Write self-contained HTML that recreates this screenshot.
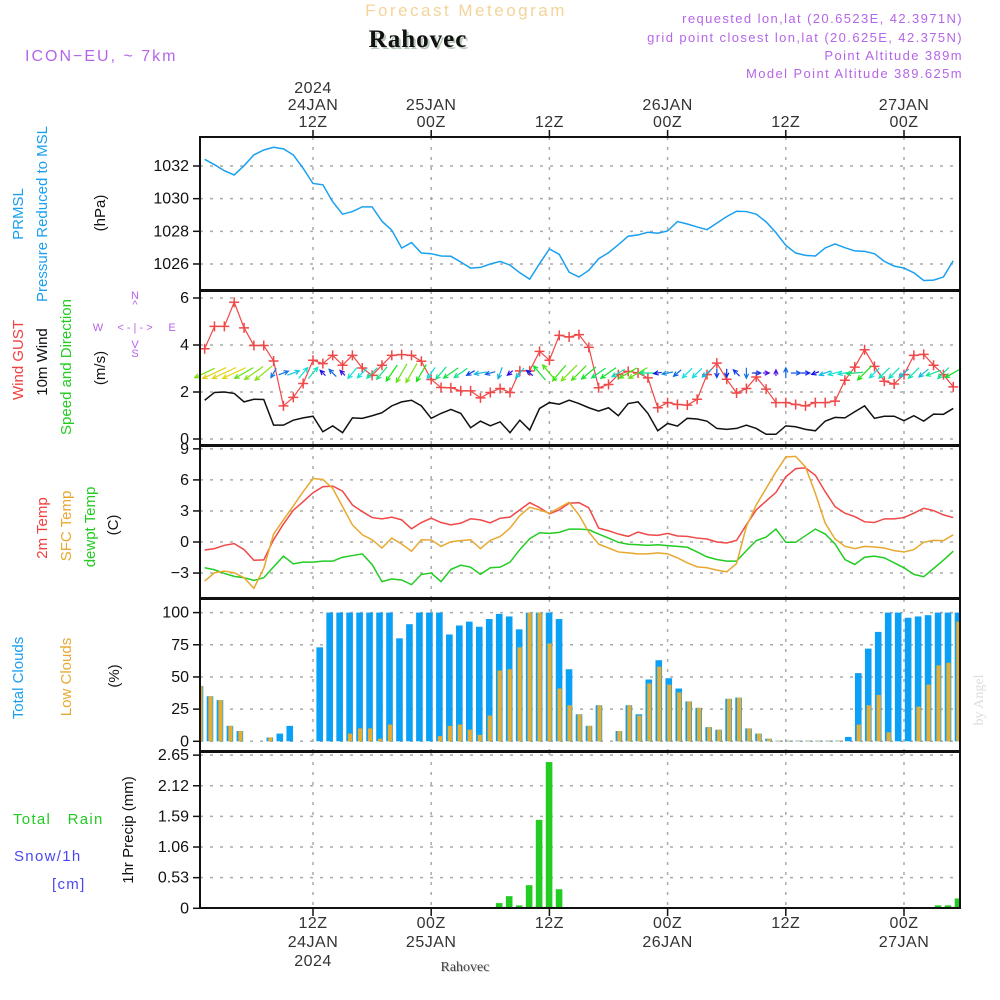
<!DOCTYPE html>
<html><head><meta charset="utf-8"><title>Forecast Meteogram Rahovec</title>
<style>
html,body{margin:0;padding:0;background:#fff;}
svg{display:block;font-family:"Liberation Sans",sans-serif;}
</style></head>
<body>
<svg id="chart" width="1000" height="1000" viewBox="0 0 1000 1000" xmlns="http://www.w3.org/2000/svg">
<rect x="0" y="0" width="1000" height="1000" fill="#fff"/>
<text x="466" y="16" text-anchor="middle" font-size="17" fill="#f3d49a" letter-spacing="2.5">Forecast Meteogram</text>
<text x="420" y="49" text-anchor="middle" font-size="25" font-weight="bold" font-family="Liberation Serif, serif" fill="#b8c8b8" letter-spacing="1">Rahovec</text>
<text x="418" y="47" text-anchor="middle" font-size="25" font-weight="bold" font-family="Liberation Serif, serif" fill="#111" letter-spacing="1">Rahovec</text>
<text x="25" y="61" font-size="16" fill="#b565e8" letter-spacing="2">ICON−EU, ~ 7km</text>
<g font-size="13" fill="#b565e8" text-anchor="end" letter-spacing="1.4">
<text x="963" y="23">requested lon,lat (20.6523E, 42.3971N)</text>
<text x="963" y="42">grid point closest lon,lat (20.625E, 42.375N)</text>
<text x="963" y="60">Point Altitude 389m</text>
<text x="963" y="78">Model Point Altitude 389.625m</text>
</g>
<g font-size="15">
<text transform="translate(23,214) rotate(-90)" text-anchor="middle" fill="#1aa0f0">PRMSL</text>
<text transform="translate(47,214) rotate(-90)" text-anchor="middle" fill="#1aa0f0">Pressure Reduced to MSL</text>
<text transform="translate(105,213) rotate(-90)" text-anchor="middle" fill="#111">(hPa)</text>
</g>
<g font-size="15">
<text transform="translate(23,360) rotate(-90)" text-anchor="middle" fill="#f04040">Wind GUST</text>
<text transform="translate(47,362) rotate(-90)" text-anchor="middle" fill="#111">10m Wind</text>
<text transform="translate(71,367) rotate(-90)" text-anchor="middle" fill="#22cc22">Speed and Direction</text>
<text transform="translate(105,368) rotate(-90)" text-anchor="middle" fill="#111">(m/s)</text>
</g>
<g font-size="11" fill="#b565e8" text-anchor="middle">
<text x="135" y="299">N</text><text x="135" y="308">^</text>
<text x="98" y="331">W</text><text x="135" y="331">&lt; - | - &gt;</text><text x="172" y="331">E</text>
<text x="135" y="348">V</text><text x="135" y="357">S</text>
</g>
<g font-size="15">
<text transform="translate(47,528) rotate(-90)" text-anchor="middle" fill="#f04040">2m Temp</text>
<text transform="translate(71,526) rotate(-90)" text-anchor="middle" fill="#e8a830">SFC Temp</text>
<text transform="translate(95,527) rotate(-90)" text-anchor="middle" fill="#22cc22">dewpt Temp</text>
<text transform="translate(118,525) rotate(-90)" text-anchor="middle" fill="#111">(C)</text>
</g>
<g font-size="15">
<text transform="translate(23,678) rotate(-90)" text-anchor="middle" fill="#1aa0f0">Total Clouds</text>
<text transform="translate(71,677) rotate(-90)" text-anchor="middle" fill="#e8a830">Low Clouds</text>
<text transform="translate(119,676) rotate(-90)" text-anchor="middle" fill="#111">(%)</text>
</g>
<g font-size="15" letter-spacing="1.3">
<text x="13" y="824" fill="#22cc22" xml:space="preserve">Total   Rain</text>
<text x="14" y="861" fill="#4848f0">Snow/1h</text>
<text x="52" y="889" fill="#4848f0">[cm]</text>
<text transform="translate(133,830) rotate(-90)" text-anchor="middle" fill="#111" letter-spacing="0">1hr Precip (mm)</text>
</g>
<text transform="translate(983,700) rotate(-90)" text-anchor="middle" font-size="14" font-family="Liberation Serif, serif" fill="#dcdcdc">by Angel</text>
<text x="466" y="972" text-anchor="middle" font-size="14" font-family="Liberation Serif, serif" fill="#ccc">Rahovec</text>
<text x="465" y="971" text-anchor="middle" font-size="14" font-family="Liberation Serif, serif" fill="#444">Rahovec</text>
<g id="dyn"></g>
</svg>
<script>
const hours = Array.from({length:77},(_,i)=>i+1);
const timeTickHours = [12,24,36,48,60,72];
const topLabels = [["2024","24JAN","12Z"],["25JAN","00Z"],["12Z"],["26JAN","00Z"],["12Z"],["27JAN","00Z"]];
const bottomLabels = [["12Z","24JAN","2024"],["00Z","25JAN"],["12Z"],["00Z","26JAN"],["12Z"],["00Z","27JAN"]];
const pressure = [1032.41,1032.08,1031.71,1031.45,1032.02,1032.68,1032.98,1033.15,1033.05,1032.68,1031.86,1030.93,1030.85,1029.81,1029.05,1029.21,1029.5,1029.5,1028.62,1028.07,1026.98,1027.31,1026.67,1026.63,1026.49,1026.47,1026.12,1025.75,1025.79,1026.0,1026.16,1025.93,1025.46,1025.07,1026.02,1026.92,1026.59,1025.5,1025.2,1025.61,1026.32,1026.69,1027.18,1027.7,1027.78,1027.94,1027.88,1028.02,1028.6,1028.45,1028.27,1028.1,1028.5,1028.9,1029.23,1029.21,1029.05,1028.58,1027.92,1027.14,1026.67,1026.53,1026.49,1026.98,1027.23,1027.0,1026.8,1026.77,1026.63,1026.16,1025.87,1025.75,1025.46,1024.99,1025.01,1025.2,1026.2];
const pressureTicks = [1032,1030,1028,1026];
const gust = [3.84,4.79,4.79,5.82,4.73,3.98,3.98,3.32,1.41,1.77,2.36,3.35,3.21,3.56,3.14,3.56,3.02,2.71,3.14,3.56,3.59,3.56,3.31,2.53,2.19,2.18,2.05,2.05,1.75,1.98,2.15,1.98,2.9,2.9,3.73,3.35,4.41,4.34,4.44,3.9,2.18,2.32,2.74,2.88,2.81,2.6,1.33,1.55,1.47,1.44,1.69,2.74,3.23,2.54,1.96,2.15,2.64,2.12,1.55,1.55,1.47,1.41,1.55,1.55,1.61,2.5,3.06,3.8,3.09,2.46,2.34,2.74,3.56,3.6,3.14,2.74,2.22];
const wind = [1.65,1.98,2.0,1.94,1.58,1.69,1.68,0.59,0.59,0.8,0.9,0.97,0.31,0.56,0.27,0.9,0.88,0.99,1.12,1.41,1.58,1.65,1.41,0.88,1.09,1.26,1.09,0.48,0.76,0.56,0.73,0.27,0.8,0.38,1.3,1.55,1.48,1.65,1.51,1.33,1.19,1.33,0.99,1.51,1.58,1.09,0.35,0.66,0.55,0.88,0.85,0.76,0.45,0.41,0.45,0.59,0.45,0.2,0.2,0.56,0.52,0.41,0.35,0.76,0.92,0.9,1.16,1.41,0.88,0.97,0.97,0.78,0.99,0.76,1.06,1.05,1.3];
const windDir = [65,65,65,65,60,55,50,30,250,250,220,220,135,135,135,40,45,45,40,35,30,30,30,35,40,55,55,60,80,75,20,50,40,130,140,140,40,45,45,50,55,55,60,60,60,90,80,80,50,45,45,50,0,0,135,0,270,270,180,180,270,270,70,70,75,80,85,45,45,45,45,50,45,50,70,45,60];
const windTicks = [6,4,2,0];
const temp2m = [-0.77,-0.64,-0.32,-0.16,-0.73,-1.76,-1.73,0.22,1.73,3.07,3.9,4.76,5.34,5.4,4.92,3.58,2.94,2.36,2.24,2.4,2.14,1.28,1.88,2.3,1.88,1.66,1.82,2.24,2.14,1.85,2.3,2.4,3.1,3.8,3.32,2.72,3.1,3.74,3.8,3.3,1.34,1.09,0.77,0.54,0.96,0.7,0.64,0.83,0.58,0.54,0.38,0.29,0,-0.1,0.16,1.66,3.1,3.96,4.79,6.29,7.09,7.16,6.45,4.86,3.42,2.78,2.46,1.95,1.88,2.24,2.24,2.36,2.78,3.26,3.04,2.62,2.36];
const tempSfc = [-3.77,-2.97,-2.81,-2.97,-3.45,-4.47,-2.56,0.77,2.14,3.48,4.86,6.13,6.04,5.18,3.42,1.66,0.7,0.22,-0.58,0.38,-0.19,-0.89,0.22,0.19,-0.42,0.03,0.13,0.22,-0.64,0.16,0.54,1.34,2.56,3.35,3.1,2.78,3.32,3.83,2.62,0.96,-0.2,-0.58,-0.96,-1.05,-1.15,-1.15,-1.05,-1.15,-1.53,-2.01,-2.4,-2.49,-2.72,-2.88,-2.08,1.5,3.58,5.18,6.77,8.21,8.27,7.25,4.7,1.82,0.29,-0.42,-0.64,-0.42,-0.48,-0.58,-0.83,-0.96,-0.73,-0.03,0.16,0.13,0.7];
const tempDew = [-2.49,-2.68,-3.04,-3.32,-3.45,-3.71,-3.45,-2.4,-1.37,-2.11,-1.95,-1.95,-1.85,-1.85,-1.47,-1.31,-1.15,-2.17,-3.83,-3.58,-3.67,-4.12,-3.13,-3.0,-3.83,-2.65,-2.24,-2.43,-3.13,-2.49,-2.43,-1.95,-0.73,0.32,0.89,0.83,0.93,1.25,1.25,1.18,0.77,0.38,-0.03,-0.22,-0.26,-0.32,-0.26,-0.35,-0.42,-0.51,-0.96,-1.44,-1.69,-1.85,-1.85,-0.83,0.13,0.48,1.25,-0.03,-0.03,0.61,1.25,0.77,-0.19,-1.69,-2.17,-1.47,-1.37,-1.53,-2.01,-2.49,-3.13,-3.35,-2.56,-1.76,-0.89];
const tempTicks = [9,6,3,0,-3];
const totalClouds = [43,35,32,12,8,0,0,3,6,12,0,0,73,100,100,100,100,100,100,100,80,91,100,100,100,83,90,93,89,95,99,97,87,100,100,100,95,56,21,12,28,0,8,28,21,48,63,49,41,31,26,11,9,33,34,10,6,2,0.5,0.5,0.5,0.5,0.5,0.5,0.5,3.4,53,72,85,100,100,96,97,98,100,100,100];
const lowClouds = [43,35,32,12,8,0,0,3,0,0,0,0,0,0,0,6,10,10,2,13,0,0,0,0,4,12,13,9,5,20,55,56,73,100,100,76,41,28,21,12,28,0,8,28,20,45,58,44,38,31,26,11,9,33,34,10,6,2,0.5,0.5,0.5,0.5,0.5,0.5,0.5,0,13,28,36,7,0,0,27,44,59,61,93];
const cloudTicks = [100,75,50,25,0];
const precip = [0,0,0,0,0,0,0,0,0,0,0,0,0,0,0,0,0,0,0,0,0,0,0,0,0,0,0,0,0,0,0.09,0.21,0.05,0.4,1.53,2.53,0.33,0,0,0,0,0,0,0,0,0,0,0,0,0,0,0,0,0,0,0,0,0,0,0,0,0,0,0,0,0,0,0,0,0,0,0,0,0,0.05,0.05,0.17];
const precipTicks = [2.65,2.12,1.59,1.06,0.53,0];

const NS='http://www.w3.org/2000/svg';
const L=200,R=960;
const xh = h => 194.8 + 9.85*h;
const xb = k => 200 + k*(758/76);
const yP = v => 166 + (1032 - v)*16.33;
const yW = v => 439 - v*23.5;
const yT = v => 542 - v*10.35;
const yC = v => 741.3 - v*1.287;
const yR = v => 908.3 - v*57.8;
const dyn=document.getElementById('dyn');
function mk(tag,attrs,parent){const e=document.createElementNS(NS,tag);for(const k in attrs)e.setAttribute(k,attrs[k]);(parent||dyn).appendChild(e);return e;}

const panels=[
 {name:'pressure',top:137,bot:290,ticks:pressureTicks,y:yP,fmt:v=>String(v)},
 {name:'wind',top:291,bot:445,ticks:windTicks,y:yW,fmt:v=>String(v)},
 {name:'temp',top:446,bot:598,ticks:tempTicks,y:yT,fmt:v=>v<0?'−'+(-v):String(v)},
 {name:'cloud',top:599,bot:751,ticks:cloudTicks,y:yC,fmt:v=>String(v)},
 {name:'precip',top:752,bot:908,ticks:precipTicks,y:yR,fmt:v=>v===0?'0':v.toFixed(2)}
];
panels.forEach(p=>{
 const g=mk('g',{});
 
 
 p.ticks.forEach(t=>{
  const y=p.y(t);
  const ln=mk('line',{x1:L,x2:R,y1:y,y2:y,stroke:'#aaa','stroke-width':1.5,'stroke-dasharray':'3 7'},g);
  
  
  mk('line',{x1:L-7,x2:L,y1:y,y2:y,stroke:'#111','stroke-width':1.5},g);
  const tx=mk('text',{x:L-11,y:y+5,'text-anchor':'end','font-size':16,fill:'#111'},g);
  tx.textContent=p.fmt(t);
  
  
 });
 timeTickHours.forEach(h=>{
  const ln=mk('line',{x1:xh(h),x2:xh(h),y1:p.top,y2:p.bot,stroke:'#aaa','stroke-width':1.5,'stroke-dasharray':'3 7'},g);
  
  
 });
});

const pl=mk('polyline',{points:hours.map((h,i)=>xh(h)+','+yP(pressure[i])).join(' '),fill:'none',stroke:'#1aa0f0','stroke-width':1.5});



const wl=mk('polyline',{points:hours.map((h,i)=>xh(h)+','+yW(wind[i])).join(' '),fill:'none',stroke:'#111','stroke-width':1.5});


const gl=mk('polyline',{points:hours.map((h,i)=>xh(h)+','+yW(gust[i])).join(' '),fill:'none',stroke:'#f04848','stroke-width':1.2});


hours.forEach((h,i)=>{
 const x=xh(h),y=yW(gust[i]);
 const m=mk('path',{d:`M${x-5},${y}H${x+5}M${x},${y-5}V${y+5}`,stroke:'#f04848','stroke-width':1.5});
 
 
});
hours.forEach((h,i)=>{
 const sp=wind[i], d=windDir[i]*Math.PI/180;
 const len=4+11*sp;
 const dx=-Math.sin(d), dy=Math.cos(d);
 const cx=xh(h), cy=373;
 const x1=cx-dx*len/2, y1=cy-dy*len/2, x2=cx+dx*len/2, y2=cy+dy*len/2;
 const hue=Math.max(55,Math.min(275,280-sp*115));
 const col=`hsl(${hue},85%,48%)`;
 const a=Math.atan2(dy,dx), hl=5;
 const hx1=x2-hl*Math.cos(a-0.45), hy1=y2-hl*Math.sin(a-0.45);
 const hx2=x2-hl*Math.cos(a+0.45), hy2=y2-hl*Math.sin(a+0.45);
 const ar=mk('path',{d:`M${x1},${y1}L${x2},${y2}M${hx1},${hy1}L${x2},${y2}L${hx2},${hy2}`,stroke:col,'stroke-width':1.2,fill:'none'});
 
 
});

[[tempDew,'#22cc22','dewpoint-line'],[temp2m,'#f04848','temp-2m-line'],[tempSfc,'#e8a830','sfc-temp-line']].forEach(([arr,c,n])=>{
 const l=mk('polyline',{points:hours.map((h,i)=>xh(h)+','+yT(arr[i])).join(' '),fill:'none',stroke:c,'stroke-width':1.5});
 
 
});

const clip=mk('clipPath',{id:'pclip'});mk('rect',{x:L,y:0,width:R-L,height:1000},clip);
const cg=mk('g',{'clip-path':'url(#pclip)'});
totalClouds.forEach((v,k)=>{
 const x=xb(k);
 const b=mk('rect',{x:x-3.3,y:yC(v),width:6.6,height:yC(0)-yC(v),fill:'#0aa0f5'},cg);
 
 
 const lv=lowClouds[k];
 const o=mk('rect',{x:x-1.6,y:yC(lv),width:4.2,height:yC(0)-yC(lv),fill:'#e8ad30'},cg);
 
 
});

precip.forEach((v,k)=>{
 if(v<=0)return;
 const x=xb(k);
 const b=mk('rect',{x:x-3.3,y:yR(v),width:6.6,height:yR(0)-yR(v),fill:'#22cc22'},cg);
 
 
});
mk('line',{x1:L,x2:R,y1:yR(0),y2:yR(0),stroke:'#111','stroke-width':1.5,'stroke-dasharray':'6 3'});

const fr=mk('rect',{x:L,y:137,width:R-L,height:771,fill:'none',stroke:'#111','stroke-width':2});


[290.5,445.5,598.5,751.5].forEach(y=>{
 const s=mk('line',{x1:L,x2:R,y1:y,y2:y,stroke:'#111','stroke-width':3});
 
 
});

timeTickHours.forEach((h,i)=>{
 const x=xh(h);
 mk('line',{x1:x,x2:x,y1:130,y2:137,stroke:'#111','stroke-width':1.5});
 mk('line',{x1:x,x2:x,y1:908,y2:916,stroke:'#111','stroke-width':1.5});
 const tl=topLabels[i];
 tl.forEach((s,j)=>{
  const t=mk('text',{x:x,y:127-(tl.length-1-j)*17,'text-anchor':'middle','font-size':16,fill:'#333','letter-spacing':'0.5'});
  t.textContent=s;
  
  
 });
 bottomLabels[i].forEach((s,j)=>{
  const t=mk('text',{x:x,y:928+j*19,'text-anchor':'middle','font-size':16,fill:'#333','letter-spacing':'0.5'});
  t.textContent=s;
  
  
 });
});
</script>
</body></html>
